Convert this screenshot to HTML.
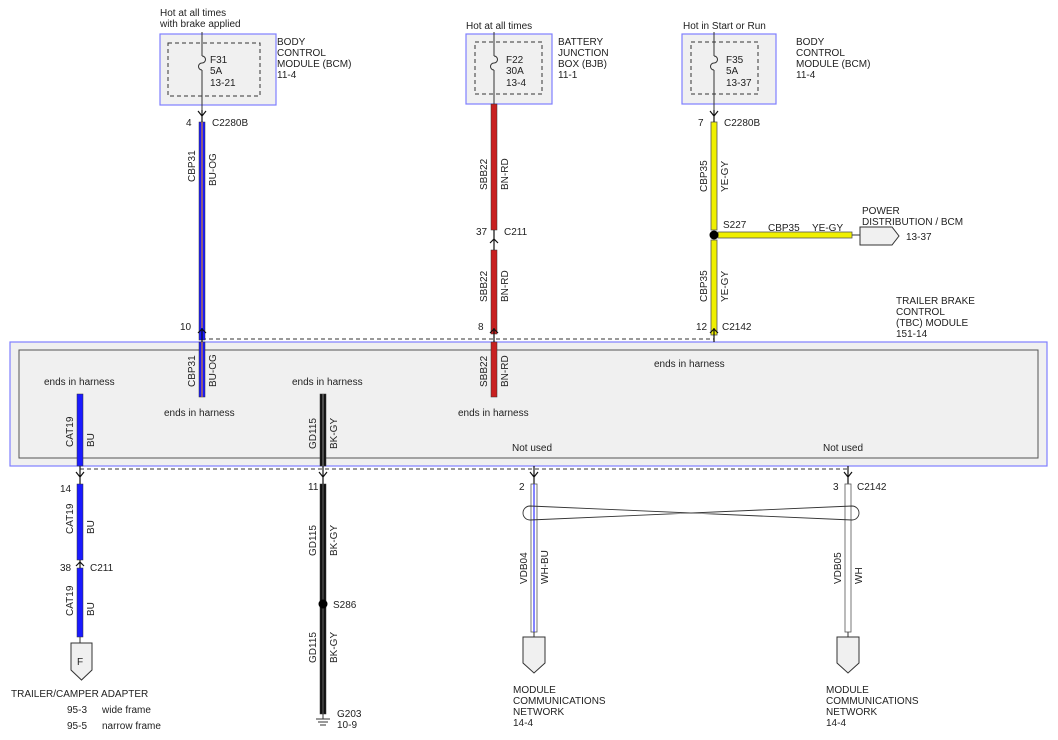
<!DOCTYPE html>
<html><head><meta charset="utf-8"><style>
body{margin:0;background:#fff}
svg{display:block}
text{font-family:"Liberation Sans",sans-serif;font-size:10px;fill:#222}
</style></head><body>
<svg width="1058" height="740" viewBox="0 0 1058 740" xmlns="http://www.w3.org/2000/svg">
<g stroke="#7f7fff" stroke-width="1.2" fill="#f0f0f0">
<rect x="160" y="34" width="116" height="71"/>
<rect x="466" y="34" width="86" height="70"/>
<rect x="682" y="34" width="94" height="70"/>
</g>
<g stroke="#333" stroke-dasharray="4,3" fill="none">
<rect x="168" y="43" width="92" height="53"/>
<rect x="475" y="42" width="67" height="52"/>
<rect x="691" y="42" width="67" height="52"/>
</g>
<g stroke="#333" fill="none" stroke-width="1">
<line x1="202" y1="32" x2="202" y2="56"/><line x1="202" y1="70" x2="202" y2="122"/>
<line x1="494" y1="32" x2="494" y2="56"/><line x1="494" y1="70" x2="494" y2="104"/>
<line x1="714" y1="32" x2="714" y2="56"/><line x1="714" y1="70" x2="714" y2="122"/>
<path d="M202 56 a3.5 3.5 0 0 1 0 7 a3.5 3.5 0 0 0 0 7"/>
<path d="M494 56 a3.5 3.5 0 0 1 0 7 a3.5 3.5 0 0 0 0 7"/>
<path d="M714 56 a3.5 3.5 0 0 1 0 7 a3.5 3.5 0 0 0 0 7"/>
</g>
<text x="160" y="16">Hot at all times</text><text x="160" y="27">with brake applied</text>
<text x="466" y="29">Hot at all times</text>
<text x="683" y="29">Hot in Start or Run</text>
<text x="210" y="63">F31</text><text x="210" y="74">5A</text><text x="210" y="86">13-21</text>
<text x="506" y="63">F22</text><text x="506" y="74">30A</text><text x="506" y="86">13-4</text>
<text x="726" y="63">F35</text><text x="726" y="74">5A</text><text x="726" y="86">13-37</text>
<text x="277" y="45">BODY</text><text x="277" y="56">CONTROL</text><text x="277" y="67">MODULE (BCM)</text><text x="277" y="78">11-4</text>
<text x="558" y="45">BATTERY</text><text x="558" y="56">JUNCTION</text><text x="558" y="67">BOX (BJB)</text><text x="558" y="78">11-1</text>
<text x="796" y="45">BODY</text><text x="796" y="56">CONTROL</text><text x="796" y="67">MODULE (BCM)</text><text x="796" y="78">11-4</text>

<rect x="10" y="342" width="1037" height="124" fill="#f0f0f0" stroke="#7f7fff" stroke-width="1.2"/>
<rect x="19" y="350" width="1019" height="108" fill="none" stroke="#555" stroke-width="1"/>
<g stroke="#333" stroke-dasharray="4,3" fill="none">
<line x1="202" y1="339" x2="714" y2="339"/>
<line x1="80" y1="469" x2="848" y2="469"/>
</g>

<rect x="199" y="122" width="6" height="218" fill="#1a1aff" stroke="#333" stroke-width="0.5"/>
<line x1="202" y1="122" x2="202" y2="340" stroke="#ff9900" stroke-width="1"/>
<rect x="199" y="342" width="6" height="55" fill="#1a1aff" stroke="#333" stroke-width="0.5"/>
<line x1="202" y1="342" x2="202" y2="397" stroke="#ff9900" stroke-width="1"/>
<rect x="491" y="104" width="6" height="126" fill="#c82020" stroke="#333" stroke-width="0.5"/>
<rect x="491" y="250" width="6" height="84" fill="#c82020" stroke="#333" stroke-width="0.5"/>
<rect x="491" y="342" width="6" height="55" fill="#c82020" stroke="#333" stroke-width="0.5"/>
<rect x="711" y="122" width="6" height="108" fill="#f0f000" stroke="#555" stroke-width="0.8"/>
<rect x="711" y="240" width="6" height="95" fill="#f0f000" stroke="#555" stroke-width="0.8"/>
<rect x="718" y="232" width="134" height="6" fill="#f0f000" stroke="#555" stroke-width="0.8"/>
<line x1="852" y1="235" x2="860" y2="235" stroke="#333"/>
<circle cx="714" cy="235" r="4.5" fill="#000"/>
<path d="M860 227 H892 L899 236 L892 245 H860 Z" fill="#f0f0f0" stroke="#333"/>

<g stroke="#111" fill="none" stroke-width="1.2">
<path d="M198 111 l4 5 l4 -5 M202 110 v12"/>
<path d="M710 111 l4 5 l4 -5 M714 110 v12"/>
<path d="M490 243 l4 -4 l4 4 M494 230 v20"/>
<path d="M198 333 l4 -4 l4 4 M202 328 v14"/>
<path d="M490 333 l4 -4 l4 4 M494 328 v14"/>
<path d="M710 333 l4 -4 l4 4 M714 328 v14"/>
<path d="M76 472 l4 5 l4 -5 M80 466 v18"/>
<path d="M319 472 l4 5 l4 -5 M323 466 v18"/>
<path d="M530 472 l4 5 l4 -5 M534 466 v18"/>
<path d="M844 472 l4 5 l4 -5 M848 466 v18"/>
<path d="M76 566 l4 -4 l4 4 M80 560 v15"/>
</g>
<text x="186" y="126">4</text><text x="212" y="126">C2280B</text>
<text x="698" y="126">7</text><text x="724" y="126">C2280B</text>
<text x="476" y="235">37</text><text x="504" y="235">C211</text>
<text x="180" y="330">10</text><text x="478" y="330">8</text><text x="696" y="330">12</text><text x="722" y="330">C2142</text>
<text x="723" y="228">S227</text>
<text x="768" y="231">CBP35</text><text x="812" y="231">YE-GY</text>
<text x="862" y="214">POWER</text><text x="862" y="225">DISTRIBUTION / BCM</text>
<text x="906" y="240">13-37</text>
<text x="896" y="304">TRAILER BRAKE</text><text x="896" y="315">CONTROL</text><text x="896" y="326">(TBC) MODULE</text><text x="896" y="337">151-14</text>

<g>
<text transform="translate(195,182) rotate(-90)">CBP31</text><text transform="translate(216,186) rotate(-90)">BU-OG</text>
<text transform="translate(487,190) rotate(-90)">SBB22</text><text transform="translate(508,190) rotate(-90)">BN-RD</text>
<text transform="translate(487,302) rotate(-90)">SBB22</text><text transform="translate(508,302) rotate(-90)">BN-RD</text>
<text transform="translate(707,192) rotate(-90)">CBP35</text><text transform="translate(728,192) rotate(-90)">YE-GY</text>
<text transform="translate(707,302) rotate(-90)">CBP35</text><text transform="translate(728,302) rotate(-90)">YE-GY</text>
<text transform="translate(195,387) rotate(-90)">CBP31</text><text transform="translate(216,387) rotate(-90)">BU-OG</text>
<text transform="translate(487,387) rotate(-90)">SBB22</text><text transform="translate(508,387) rotate(-90)">BN-RD</text>
<text transform="translate(73,447) rotate(-90)">CAT19</text><text transform="translate(94,447) rotate(-90)">BU</text>
<text transform="translate(316,449) rotate(-90)">GD115</text><text transform="translate(337,449) rotate(-90)">BK-GY</text>
<text transform="translate(73,534) rotate(-90)">CAT19</text><text transform="translate(94,534) rotate(-90)">BU</text>
<text transform="translate(73,616) rotate(-90)">CAT19</text><text transform="translate(94,616) rotate(-90)">BU</text>
<text transform="translate(316,556) rotate(-90)">GD115</text><text transform="translate(337,556) rotate(-90)">BK-GY</text>
<text transform="translate(316,663) rotate(-90)">GD115</text><text transform="translate(337,663) rotate(-90)">BK-GY</text>
<text transform="translate(527,584) rotate(-90)">VDB04</text><text transform="translate(548,584) rotate(-90)">WH-BU</text>
<text transform="translate(841,584) rotate(-90)">VDB05</text><text transform="translate(862,584) rotate(-90)">WH</text>
</g>
<text x="44" y="385">ends in harness</text>
<text x="164" y="416">ends in harness</text>
<text x="292" y="385">ends in harness</text>
<text x="458" y="416">ends in harness</text>
<text x="654" y="367">ends in harness</text>
<text x="512" y="451">Not used</text>
<text x="823" y="451">Not used</text>

<rect x="77" y="394" width="6" height="72" fill="#1a1aff" stroke="#333" stroke-width="0.5"/>
<rect x="320" y="394" width="6" height="72" fill="#111" stroke="#333" stroke-width="0.5"/>
<line x1="323" y1="394" x2="323" y2="466" stroke="#888" stroke-width="1"/>

<rect x="77" y="484" width="6" height="76" fill="#1a1aff" stroke="#333" stroke-width="0.5"/>
<rect x="77" y="568" width="6" height="69" fill="#1a1aff" stroke="#333" stroke-width="0.5"/>
<line x1="80" y1="637" x2="80" y2="643" stroke="#333"/>
<text x="60" y="492">14</text><text x="60" y="571">38</text><text x="90" y="571">C211</text>
<path d="M71 643 H92 V670 L81.5 680 L71 670 Z" fill="#f0f0f0" stroke="#333"/>
<text x="77" y="665">F</text>
<text x="11" y="697">TRAILER/CAMPER ADAPTER</text>
<text x="67" y="713">95-3</text><text x="102" y="713">wide frame</text>
<text x="67" y="729">95-5</text><text x="102" y="729">narrow frame</text>

<rect x="320" y="484" width="6" height="230" fill="#111" stroke="#333" stroke-width="0.5"/>
<line x1="323" y1="484" x2="323" y2="714" stroke="#777" stroke-width="0.8"/>
<circle cx="323" cy="604" r="4.5" fill="#000"/>
<text x="308" y="490">11</text><text x="333" y="608">S286</text>
<g stroke="#333"><line x1="323" y1="714" x2="323" y2="719"/><line x1="316" y1="719" x2="330" y2="719"/><line x1="318" y1="722" x2="328" y2="722"/><line x1="320" y1="725" x2="326" y2="725"/></g>
<text x="337" y="717">G203</text><text x="337" y="728">10-9</text>

<rect x="531" y="484" width="6" height="148" fill="#fff" stroke="#555" stroke-width="0.8"/>
<line x1="534" y1="484" x2="534" y2="632" stroke="#3333ff" stroke-width="1.2"/>
<rect x="845" y="484" width="6" height="148" fill="#fff" stroke="#555" stroke-width="0.8"/>
<line x1="848" y1="632" x2="848" y2="637" stroke="#333"/>
<line x1="534" y1="632" x2="534" y2="637" stroke="#333"/>
<text x="519" y="490">2</text><text x="833" y="490">3</text><text x="857" y="490">C2142</text>
<path d="M530 506 L852 520 A7 7 0 0 0 852 506 L530 520 A7 7 0 0 1 530 506 Z" fill="none" stroke="#333" stroke-width="0.9"/>
<path d="M523 637 H545 V663 L534 673 L523 663 Z" fill="#f0f0f0" stroke="#333"/>
<path d="M837 637 H859 V663 L848 673 L837 663 Z" fill="#f0f0f0" stroke="#333"/>
<text x="513" y="693">MODULE</text><text x="513" y="704">COMMUNICATIONS</text><text x="513" y="715">NETWORK</text><text x="513" y="726">14-4</text>
<text x="826" y="693">MODULE</text><text x="826" y="704">COMMUNICATIONS</text><text x="826" y="715">NETWORK</text><text x="826" y="726">14-4</text>
</svg>
</body></html>
